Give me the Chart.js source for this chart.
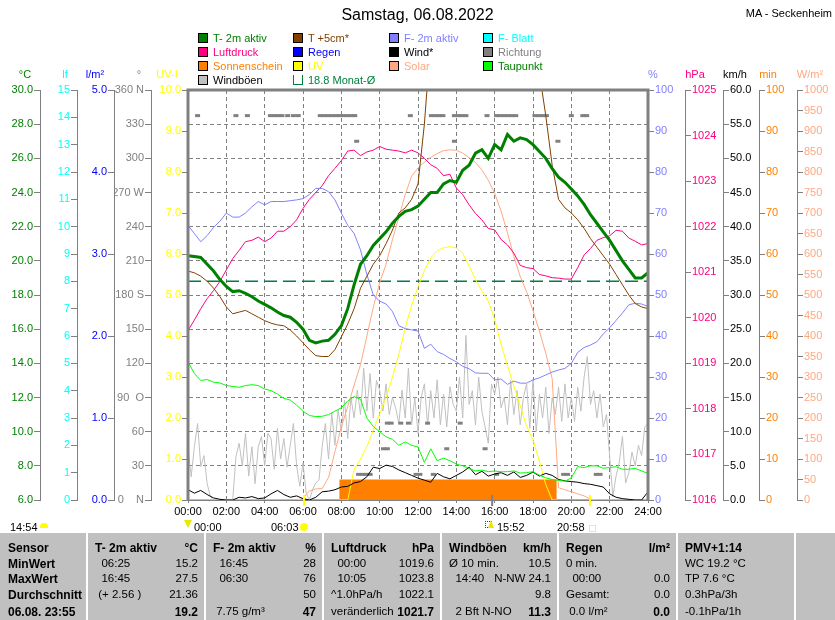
<!DOCTYPE html>
<html>
<head>
<meta charset="utf-8">
<script src="https://cdn.jsdelivr.net/npm/chart.js@4.4.1/dist/chart.umd.min.js"></script>
<style>
  body { margin: 0; background: #fff; }
  #page { position: relative; width: 835px; height: 620px; overflow: hidden;
          font-family: "Liberation Sans", Arial, sans-serif; color: #000; }
  #page canvas { position: absolute; left: 0; top: 0; }
  .abs { position: absolute; white-space: pre; line-height: 14px; font-size: 11px; }
  .box { position: absolute; width: 8px; height: 8px; border: 1px solid #000; }
  #stats { position: absolute; left: 0; top: 533px; width: 835px; height: 87px; background: #c0c0c0; }
  .sep { position: absolute; top: 0; width: 2px; height: 87px; background: #fff; }
</style>
</head>
<body>
<div id="page">
  <canvas id="wx" width="835" height="530"></canvas>
  <div class="abs" style="left:0;width:835px;top:5px;font-size:16px;line-height:20px;text-align:center">Samstag, 06.08.2022</div>
  <div class="abs" style="right:3px;top:6px;text-align:right">MA - Seckenheim</div>
  <div id="legend"></div>
  <div id="events">
    <div class="abs" style="left:10px;top:520px">14:54</div>
    <div style="position:absolute;left:40px;top:523px;width:8px;height:5px;background:#ffff00;border-radius:4px 4px 0 0"></div>
    <div style="position:absolute;left:184px;top:520px;width:0;height:0;border-left:4px solid transparent;border-right:4px solid transparent;border-top:8px solid #e8e800"></div>
    <div class="abs" style="left:194px;top:520px">00:00</div>
    <div class="abs" style="left:271px;top:520px">06:03</div>
    <div style="position:absolute;left:300px;top:523px;width:8px;height:8px;border-radius:50%;background:#ffff00"></div>
    <div style="position:absolute;left:485px;top:521px;width:5px;height:5px;border:1px dotted #3030c0"></div>
    <div style="position:absolute;left:488px;top:520px;width:0;height:0;border-left:3px solid transparent;border-right:3px solid transparent;border-bottom:8px solid #e8e800"></div>
    <div class="abs" style="left:497px;top:520px">15:52</div>
    <div class="abs" style="left:557px;top:520px">20:58</div>
    <div style="position:absolute;left:589px;top:525px;width:5px;height:5px;border:1px solid #ffff00"></div>
  </div>
  <div id="stats"></div>
</div>

<script>
// time grid: 20-minute samples 00:00 .. 24:00, gusts every 10 minutes
const times20 = Array.from({ length: 73 }, (_, i) => i / 3);
const times10 = Array.from({ length: 145 }, (_, i) => i / 6);

// °C
const tempAir = [20.3,20.25,20.2, 19.8,19.4,18.9, 18.5,18.2,18.25, 18.1,17.9,17.65, 17.45,17.25,17.0,
  16.8,16.7,16.4, 16.0,15.35,15.2, 15.3,15.35,15.7, 16.2,17.2,18.6, 19.8,20.3,20.9, 21.3,21.7,22.2,
  22.6,22.9,23.0, 23.2,23.6,24.0, 24.0,24.5,24.7, 24.6,25.3,25.6, 26.3,26.5,26.0, 26.8,26.5,27.4,
  27.0,27.2,27.1, 26.8,26.4,26.0, 25.4,24.9,24.6, 24.2,23.8,23.3, 22.7,22.2,21.7, 21.2,20.6,20.0,
  19.5,19.0,19.0, 19.3];
const tempGround = [19.4,19.3,19.1, 18.8,18.4,17.9, 17.3,16.9,17.0, 17.1,16.9,16.7, 16.5,16.35,16.25,
  16.2,15.95,15.6, 15.2,14.8,14.45, 14.4,14.4,14.8, 15.55,16.3,17.2, 18.4,19.1,19.8, 20.3,21.0,21.8,
  22.8,23.1,23.6, 24.5,28.0,33, 37,40,42, 44,45,46, 46,46,45, 45,44,43, 41,39,37, 34,31,28.5,
  25.6,23.6,23.1, 22.8,22.4,21.9, 21.3,20.8,20.3, 19.8,19.2,18.6, 18.0,17.5,17.3, 17.2];
const dewPoint = [14.1,13.4,13.0, 13.05,12.9,12.85, 12.7,12.65,12.6, 12.7,12.75,12.7, 12.5,12.4,12.2,
  11.95,11.85,11.55, 11.2,10.95,10.88, 10.9,11.0,11.2, 11.4,11.8,12.05, 11.9,10.8,10.3, 10.0,9.7,9.55,
  9.2,9.4,9.2, 9.1,8.2,9.0, 8.3,8.45,8.3, 8.1,8.0,7.85, 7.7,7.75,7.66, 7.7,7.65,7.66, 7.7,7.58,7.6,
  7.66,7.45,7.3, 7.2,7.15,7.1, 7.3,7.95,7.9, 8.0,8.0,7.86, 7.9,7.95,7.8, 7.8,7.85,7.7, 7.56];
const monthTimes = [0, 24];
const monthAvg = [18.8, 18.8];

// %
const humidity = [67,65,63, 64.5,66.5,68, 70,69,69, 70,71.5,72.8, 72,72.8,72.8, 72.8,73,73.2,
  73.5,74.5,76, 76,75.2,73.2, 70,67,65, 61,55,50, 48.5,47.8,46, 42.5,41.8,41.5, 41.2,37,38,
  36.2,35.5,34.5, 33.7,32.6,32, 31,30.9,30.9, 29.3,29.5,28.2, 29,28.5,28.5, 29.3,29.8,30.5,
  31.2,31.7,32.1, 33.3,36,37.2, 37.8,38.6,40.5, 42,43.8,45.6, 47.6,48,47.8, 47.2];

// hPa
const pressure = [1019.72,1019.95,1020.2, 1020.42,1020.6,1020.8, 1021.05,1021.3,1021.48,
  1021.67,1021.7,1021.77, 1021.67,1021.75,1021.9, 1021.9,1022.0,1022.15, 1022.4,1022.6,1022.75,
  1022.9,1023.12,1023.28, 1023.45,1023.66,1023.68, 1023.56,1023.64,1023.68, 1023.76,1023.7,1023.68,
  1023.66,1023.62,1023.68, 1023.62,1023.5,1023.36, 1023.28,1023.12,1023.15, 1022.85,1022.7,1022.48,
  1022.29,1022.15,1021.96, 1021.93,1021.72,1021.6, 1021.42,1021.15,1021.1, 1021.08,1020.95,1020.92,
  1020.88,1020.87,1020.85, 1020.85,1021.1,1021.38, 1021.52,1021.7,1021.76, 1021.8,1021.92,1021.9,
  1021.75,1021.68,1021.6, 1021.63];

// W/m²
const solar = [0,0,0, 0,0,0, 0,0,0, 0,0,0, 0,0,0, 0,0,0, 4,22,27, 28,55,118, 178,228,280,
  330,400,470, 530,575,635, 690,745,790, 810,824,836, 845,852,854, 853,846,835, 823,805,780,
  748,705,652, 594,545,508, 462,412,358, 296,30,25, 20,15,10, 2,0,0, 0,0,0, 0,0,0, 0];

// UV index
const uvIndex = [0,0,0, 0,0,0, 0,0,0, 0,0,0, 0,0,0, 0,0,0, 0,0,0, 0,0,0, 0,0,0.75,
  1.0,1.3,1.7, 2.1,2.5,3.0, 3.55,4.2,4.75, 5.2,5.6,5.9, 6.08,6.15,6.18, 6.15,6.02,5.7,
  5.38,5.1,4.85, 4.4,3.8,3.28, 2.78,2.3,1.8, 1.46,0.95,0.38, 0,0,0, 0,0,0, 0,0,0, 0,0,0, 0,0,0, 0];

// km/h
const wind = [1.5,1.0,1.4, 0.8,0.3,0.1, 0,0,0.4, 0.3,0.5,0.2, 0.3,0.9,1.4, 0.8,0.4,0.6,
  0.2,0,0.4, 1.2,1.3,1.5, 1.9,2.0,2.5, 2.7,3.4,4.8, 4.6,5.1,4.9, 4.4,4.0,3.6, 3.2,2.9,2.6,
  3.9,3.4,3.1, 3.6,4.1,4.8, 3.7,4.2,3.5, 3.8,4.0,3.6, 4.1,3.3,3.6, 4.1,3.5,3.9, 3.6,3.0,2.8,
  2.7,2.6,2.4, 2.3,2.1,1.9, 0.9,0.4,0.2, 0.1,0,0, 1.2];
const gusts = [7.6,3.4,7.8,11.2,4.9,6.5, 2.4,0.5,0,0,0,0, 0,0,0,6.3,8.3,5.0,
  9.75,3.5,7.8,2.4,7.8,9.3, 5.0,9.75,9.0,4.5,10.5,6.0, 9.0,4.8,8.0,11.2,5.0,2.0,
  5.4,1.0,0,1.5,2.5,2.9, 7.8,11.2,6.0,12.7,8.0,13.2, 10.0,14.6,9.0,15.0,12.0,16.1,
  12.5,19.3,13.0,18.5,12.0,17.5, 16.0,13.0,17.0,12.5,15.0,13.5, 11.2,16.1,12.0,19.3,11.0,15.0,
  9.75,15.0,17.0,11.0,16.0,12.0, 17.6,11.0,15.5,10.7,16.6,14.0, 13.0,18.0,12.0,24.1,14.0,16.0,
  11.0,18.0,13.0,10.7,8.3,17.0, 15.5,18.0,13.5,15.0,11.0,17.5, 12.5,16.0,11.0,15.0,17.0,10.5,
  17.6,10.0,15.5,12.0,16.5,9.75, 15.0,12.5,16.5,11.5,17.0,12.0, 15.0,11.5,16.5,13.0,18.0,21.0,
  14.0,16.0,12.0,15.5,10.7,12.5, 6.3,0.5,3.5,5.5,9.3,2.5, 4.0,7.0,5.0,8.0,6.5,10.7, 11.2];

// wind direction (°)
const dirTimes = [0.5,2.5,3.1,4.3,4.5,4.7,4.9,5.2,5.5,5.75,6.9,7.1,7.3,7.5,7.7,7.9,8.1,8.3,8.5,8.7,
  11.6,12.7,12.9,13.1,13.3,13.9,14.1,14.3,14.5,15.6,16.1,16.3,16.5,16.7,16.9,17.1,18.1,18.3,18.5,18.7,20.0,20.6,20.8,
  8.8,13.9,19.3,
  10.4,10.6,11.1,11.5,12.5,14.2,
  10.2,10.4,13.5,15.5,
  8.9,9.1,9.3,9.5,11.9,12.1,12.8,16.1,19.6,19.8,21.3,21.5];
const dirDegrees = [337.5,337.5,337.5,337.5,337.5,337.5,337.5,337.5,337.5,337.5,337.5,337.5,337.5,337.5,337.5,337.5,337.5,337.5,337.5,337.5,
  337.5,337.5,337.5,337.5,337.5,337.5,337.5,337.5,337.5,337.5,337.5,337.5,337.5,337.5,337.5,337.5,337.5,337.5,337.5,337.5,337.5,337.5,337.5,
  315,315,315,
  67.5,67.5,67.5,67.5,67.5,67.5,
  45,45,45,45,
  22.5,22.5,22.5,22.5,22.5,22.5,22.5,22.5,22.5,22.5,22.5,22.5];

// sunshine minutes per 5 min
const sunTimes = [0, 7.9, 7.9, 19.23, 19.23, 24];
const sunMinutes = [0, 0, 5, 5, 0, 0];

// axis captions above the scales: text, colour, x offset from the axis line
const axisUnits = {
  yC: ['°C', '#008000', -15], yLf: ['lf', '#00ffff', -12], yRain: ['l/m²', '#0000ff', -19],
  yDir: ['°', '#808080', -12], yUV: ['UV-I', '#ffff00', -21],
  yHum: ['%', '#8080ff', 5], yP: ['hPa', '#ff0080', 10], yWind: ['km/h', '#000000', 12],
  ySun: ['min', '#ff8000', 9], ySol: ['W/m²', '#ffa880', 13]
};
const dirNames = { 360: '360 N', 270: '270 W', 180: '180 S', 90: '90  O', 0: '0    N' };
const eventMarks = [[6.05, '#ffff00'], [15.87, '#808080'], [20.97, '#ffff00']];

const pts = (ts, vs) => vs.map((v, i) => ({ x: ts[i], y: v }));

Chart.defaults.font.family = '"Liberation Sans", Arial, sans-serif';
Chart.defaults.font.size = 11;
Chart.defaults.color = '#000';

function yAxis(pos, weight, min, max, step, color, width, fmt) {
  return {
    type: 'linear', position: pos, weight: weight, min: min, max: max,
    afterFit: s => { s.width = width; },
    ticks: { stepSize: step, color: color, padding: 1, autoSkip: false, callback: fmt },
    grid: { drawOnChartArea: false, color: '#808080', tickLength: 6 },
    border: { color: '#808080', width: 1 }
  };
}

const framePlugin = {
  id: 'frame',
  afterDraw(chart) {
    const { ctx, chartArea: a, scales } = chart;
    ctx.save();
    ctx.strokeStyle = '#808080';
    ctx.lineWidth = 3;
    ctx.beginPath();
    ctx.moveTo(a.left, a.bottom);
    ctx.lineTo(a.left, a.top);
    ctx.lineTo(a.right, a.top);
    ctx.lineTo(a.right, a.bottom);
    ctx.stroke();
    // units above each axis
    ctx.font = '11px "Liberation Sans", Arial, sans-serif';
    ctx.textAlign = 'center';
    ctx.textBaseline = 'middle';
    for (const id in axisUnits) {
      const s = scales[id];
      const [txt, col, dx] = axisUnits[id];
      ctx.fillStyle = col;
      ctx.fillText(txt, (s.position === 'left' ? s.right : s.left) + dx, 75);
    }
    // sunrise / moonrise / sunset marks
    ctx.lineWidth = 2;
    for (const [t, col] of eventMarks) {
      const x = scales.x.getPixelForValue(t);
      ctx.strokeStyle = col;
      ctx.beginPath();
      ctx.moveTo(x, a.bottom - 5);
      ctx.lineTo(x, a.bottom + 6);
      ctx.stroke();
    }
    ctx.restore();
  }
};

const line = (label, ts, vs, axis, color, width) => ({
  label: label, data: pts(ts, vs), yAxisID: axis,
  borderColor: color, borderWidth: width, pointRadius: 0, fill: false
});

new Chart(document.getElementById('wx'), {
  type: 'line',
  data: {
    datasets: [
      line('T- 2m aktiv', times20, tempAir, 'yC', '#008000', 3),
      line('T +5cm*', times20, tempGround, 'yC', '#804000', 1),
      line('F- 2m aktiv', times20, humidity, 'yHum', '#8080ff', 1),
      line('Luftdruck', times20, pressure, 'yP', '#ff0080', 1),
      line('Taupunkt', times20, dewPoint, 'yC', '#00ff00', 1),
      line('Wind*', times20, wind, 'yWind', '#000000', 1),
      {
        label: 'Richtung', data: pts(dirTimes, dirDegrees), yAxisID: 'yDir', showLine: false,
        pointStyle: 'line', pointRadius: 2.5, pointBorderWidth: 3, borderColor: '#808080'
      },
      line('UV', times20, uvIndex, 'yUV', '#ffff00', 1),
      line('Solar', times20, solar, 'ySol', '#ffa880', 1),
      Object.assign(line('Monat-Ø', monthTimes, monthAvg, 'yC', '#008040', 1.5), { borderDash: [13, 6] }),
      Object.assign(line('Sonnenschein', sunTimes, sunMinutes, 'ySun', '#ff8000', 0),
        { fill: 'origin', backgroundColor: '#ff8000' }),
      line('Windböen', times10, gusts, 'yWind', '#c0c0c0', 1)
    ]
  },
  options: {
    responsive: false,
    animation: false,
    events: [],
    layout: { padding: { top: 90, left: 0, right: 0, bottom: 0 } },
    elements: { line: { tension: 0 } },
    plugins: { legend: { display: false }, tooltip: { enabled: false } },
    scales: {
      x: {
        type: 'linear', min: 0, max: 24,
        afterFit: s => { s.height = 30; },
        ticks: { stepSize: 2, padding: 2, maxRotation: 0, autoSkip: false,
                 callback: v => String(v).padStart(2, '0') + ':00' },
        grid: { color: '#808080', tickLength: 3 },
        border: { color: '#808080', width: 2, dash: [4, 3] }
      },
      yC: Object.assign(yAxis('left', 4, 6, 30, 2, '#008000', 40, v => v.toFixed(1)), {
        grid: { drawOnChartArea: true, color: '#808080', tickLength: 6 },
        border: { color: '#808080', width: 1, dash: [4, 3] }
      }),
      yLf: yAxis('left', 3, 0, 15, 1, '#00ffff', 37, v => String(v)),
      yRain: yAxis('left', 2, 0, 5, 1, '#0000ff', 37, v => v.toFixed(1)),
      yDir: yAxis('left', 1, 0, 360, 30, '#808080', 37, v => dirNames[v] || String(v)),
      yUV: yAxis('left', 0, 0, 10, 1, '#ffff00', 37, v => v.toFixed(1)),
      yHum: yAxis('right', 0, 0, 100, 10, '#8080ff', 37, v => String(v)),
      yP: yAxis('right', 1, 1016, 1025, 1, '#ff0080', 38, v => String(v)),
      yWind: yAxis('right', 2, 0, 60, 5, '#000000', 36, v => v.toFixed(1)),
      ySun: yAxis('right', 3, 0, 100, 10, '#ff8000', 38, v => String(v)),
      ySol: yAxis('right', 4, 0, 1000, 50, '#ffa880', 38, v => String(v))
    }
  },
  plugins: [framePlugin]
});

// legend (column, row, text, box colour, text colour)
const legendCols = [198, 293, 389, 483];
const legendRows = [38, 52, 66, 80];
const legendItems = [
  [0, 0, 'T- 2m aktiv', '#008000', '#008000'], [0, 1, 'Luftdruck', '#ff0080', '#ff0080'],
  [0, 2, 'Sonnenschein', '#ff8000', '#ff8000'], [0, 3, 'Windböen', '#c0c0c0', '#000000'],
  [1, 0, 'T +5cm*', '#804000', '#804000'], [1, 1, 'Regen', '#0000ff', '#0000ff'],
  [1, 2, 'UV', '#ffff00', '#ffff00'], [1, 3, '18.8 Monat-Ø', null, '#008040'],
  [2, 0, 'F- 2m aktiv', '#8080ff', '#8080ff'], [2, 1, 'Wind*', '#000000', '#000000'],
  [2, 2, 'Solar', '#ffa880', '#ffa880'],
  [3, 0, 'F- Blatt', '#00ffff', '#00ffff'], [3, 1, 'Richtung', '#808080', '#808080'],
  [3, 2, 'Taupunkt', '#00ff00', '#008000']
];
const legendEl = document.getElementById('legend');
for (const [c, r, txt, box, col] of legendItems) {
  const b = document.createElement('div');
  b.className = 'box';
  b.style.left = legendCols[c] + 'px';
  b.style.top = (legendRows[r] - 5) + 'px';
  if (box) b.style.background = box;
  else { b.style.border = '1px solid #008040'; b.style.borderTop = 'none'; b.style.height = '9px'; }
  legendEl.appendChild(b);
  const t = document.createElement('div');
  t.className = 'abs';
  t.textContent = txt;
  t.style.left = (legendCols[c] + 15) + 'px';
  t.style.top = (legendRows[r] - 7) + 'px';
  t.style.color = col;
  legendEl.appendChild(t);
}

// statistics table below the chart
const statCols = [
  [['Sensor'], ['MinWert'], ['MaxWert'], ['Durchschnitt'], ['06.08. 23:55']],
  [['T- 2m aktiv', '°C'], ['  06:25', '15.2'], ['  16:45', '27.5'], [' (+ 2.56 )', '21.36'], ['', '19.2']],
  [['F- 2m aktiv', '%'], ['  16:45', '28'], ['  06:30', '76'], ['', '50'], [' 7.75 g/m³', '47']],
  [['Luftdruck', 'hPa'], ['  00:00', '1019.6'], ['  10:05', '1023.8'], ['^1.0hPa/h', '1022.1'], ['veränderlich', '1021.7']],
  [['Windböen', 'km/h'], ['Ø 10 min.', '10.5'], ['  14:40', 'N-NW 24.1'], ['', '9.8'], ['  2 Bft N-NO', '11.3']],
  [['Regen', 'l/m²'], ['0 min.', ''], ['  00:00', '0.0'], ['Gesamt:', '0.0'], [' 0.0 l/m²', '0.0']],
  [['PMV+1:14'], ['WC 19.2 °C'], ['TP 7.6 °C'], ['0.3hPa/3h'], ['-0.1hPa/1h']]
];
const colEdges = [0, 87, 205, 323, 441, 558, 677, 795, 835];
const rowCenters = [15, 31, 46, 62, 79];
const statsEl = document.getElementById('stats');
colEdges.slice(1, -1).forEach(x => {
  const s = document.createElement('div');
  s.className = 'sep';
  s.style.left = (x - 1) + 'px';
  statsEl.appendChild(s);
});
statCols.forEach((rows, ci) => {
  rows.forEach((cells, ri) => {
    const boldLeft = ri === 0 || ci === 0;
    const l = document.createElement('div');
    l.className = 'abs';
    l.textContent = cells[0];
    l.style.left = (colEdges[ci] + 8) + 'px';
    l.style.top = (rowCenters[ri] - 7) + 'px';
    l.style.font = boldLeft ? 'bold 12px "Liberation Sans", Arial, sans-serif' : '11.5px "Liberation Sans", Arial, sans-serif';
    statsEl.appendChild(l);
    if (cells[1]) {
      const r = document.createElement('div');
      r.className = 'abs';
      r.textContent = cells[1];
      r.style.right = (835 - colEdges[ci + 1] + 7) + 'px';
      r.style.top = (rowCenters[ri] - 7) + 'px';
      r.style.textAlign = 'right';
      r.style.font = (ri === 0 || ri === 4) ? 'bold 12px "Liberation Sans", Arial, sans-serif' : '11.5px "Liberation Sans", Arial, sans-serif';
      statsEl.appendChild(r);
    }
  });
});
</script>
</body>
</html>
